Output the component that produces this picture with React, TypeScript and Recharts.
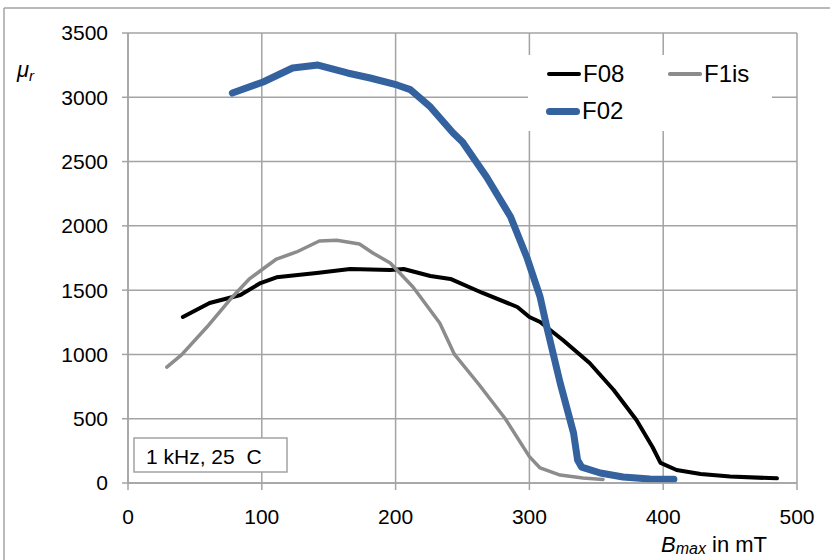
import { CartesianGrid, Legend, Line, LineChart, XAxis, YAxis } from "recharts";

const FONT = '"Liberation Sans", Arial, Helvetica, sans-serif';

// B_max in mT / relative permeability
const f08B = [41, 61, 84, 99, 111, 141, 166, 196, 206, 226, 241, 265, 291, 300, 308, 325, 345, 363, 380, 392, 398, 410, 428, 450, 485];
const f08Mu = [1291, 1400, 1462, 1555, 1600, 1633, 1664, 1657, 1664, 1610, 1587, 1478, 1369, 1291, 1252, 1112, 933, 723, 490, 280, 156, 101, 70, 50, 36];

const f1isB = [29, 40, 59, 78, 91, 111, 126, 143, 156, 173, 183, 196, 213, 233, 244, 262, 282, 300, 308, 323, 340, 355];
const f1isMu = [902, 996, 1213, 1447, 1590, 1742, 1797, 1882, 1888, 1859, 1789, 1711, 1524, 1244, 1000, 770, 500, 205, 117, 62, 39, 28];

const f02B = [78, 101, 123, 142, 164, 181, 201, 211, 226, 243, 250, 268, 286, 298, 308, 313, 323, 333, 336, 339, 353, 370, 390, 408];
const f02Mu = [3033, 3119, 3228, 3251, 3189, 3150, 3096, 3060, 2925, 2722, 2652, 2380, 2069, 1758, 1447, 1213, 778, 389, 179, 124, 78, 47, 31, 30];

const xTicks = [0, 100, 200, 300, 400, 500];
const yTicks = [0, 500, 1000, 1500, 2000, 2500, 3000, 3500];

const toPoints = (bs: number[], mus: number[]) => bs.map((b, i) => ({ b, mu: mus[i] }));

const series = [
  { name: "F08", data: toPoints(f08B, f08Mu), color: "#000000", width: 4 },
  { name: "F1is", data: toPoints(f1isB, f1isMu), color: "#8c8c8c", width: 3.5 },
  { name: "F02", data: toPoints(f02B, f02Mu), color: "#34629f", width: 7 },
];

const legendSpots: Record<string, { x: number; y: number }> = {
  F08: { x: 19, y: 19 },
  F1is: { x: 140, y: 19 },
  F02: { x: 18, y: 56 },
};

const GRID = "#a3a3a3";

function LegendBox() {
  return (
    <div style={{ position: "relative", width: 244, height: 76, background: "#fff", fontFamily: FONT }}>
      {series.map((s) => {
        const p = legendSpots[s.name];
        return (
          <div key={s.name}>
            <div
              style={{
                position: "absolute",
                left: p.x,
                top: p.y - s.width / 2,
                width: 34,
                height: s.width,
                background: s.color,
                borderRadius: s.width / 2,
              }}
            />
            <div style={{ position: "absolute", left: p.x + 36, top: p.y - 13, fontSize: 24, lineHeight: "26px", color: "#000" }}>
              {s.name}
            </div>
          </div>
        );
      })}
    </div>
  );
}

export default function App() {
  return (
    <div style={{ position: "absolute", left: 0, top: 0, width: 830, height: 560, background: "#fff", overflow: "hidden" }}>
      <LineChart width={830} height={560} margin={{ top: 33, right: 33, bottom: 37, left: 0 }}>
        <CartesianGrid stroke={GRID} strokeWidth={1.5} />
        <XAxis
          type="number"
          dataKey="b"
          domain={[0, 500]}
          ticks={xTicks}
          height={40}
          tickSize={7}
          tickMargin={19}
          axisLine={{ stroke: GRID, strokeWidth: 1.5 }}
          tickLine={{ stroke: GRID, strokeWidth: 1.5 }}
          tick={{ fill: "#000", fontSize: 21, fontFamily: FONT }}
        />
        <YAxis
          type="number"
          dataKey="mu"
          domain={[0, 3500]}
          ticks={yTicks}
          width={128}
          tickSize={6}
          tickMargin={14}
          axisLine={{ stroke: GRID, strokeWidth: 1.5 }}
          tickLine={{ stroke: GRID, strokeWidth: 1.5 }}
          tick={{ fill: "#000", fontSize: 21, fontFamily: FONT }}
        />
        <Legend
          layout="vertical"
          align="center"
          verticalAlign="middle"
          wrapperStyle={{ left: 528, top: 55, width: 244 }}
          content={() => <LegendBox />}
        />
        {series.map((s) => (
          <Line
            key={s.name}
            name={s.name}
            data={s.data}
            dataKey="mu"
            type="linear"
            stroke={s.color}
            strokeWidth={s.width}
            strokeLinejoin="round"
            strokeLinecap="round"
            dot={false}
            activeDot={false}
            isAnimationActive={false}
          />
        ))}
      </LineChart>
      <svg
        width={830}
        height={560}
        style={{ position: "absolute", left: 0, top: 0, pointerEvents: "none" }}
        fontFamily={FONT}
      >
        <line x1={4} y1={8} x2={830} y2={8} stroke={GRID} strokeWidth={1.5} />
        <line x1={4} y1={8} x2={4} y2={560} stroke={GRID} strokeWidth={1.5} />
        <text x={17} y={77} fontSize={22} fontStyle="italic" fill="#000">
          μ<tspan fontSize={15} dy={4}>r</tspan>
        </text>
        <text x={661} y={552} fontSize={22} fill="#000">
          <tspan fontStyle="italic">B</tspan>
          <tspan fontStyle="italic" fontSize={16} dy={2}>max</tspan>
          <tspan dy={-2}> in mT</tspan>
        </text>
        <rect x={134} y={438} width={153} height={34} fill="#fff" stroke={GRID} strokeWidth={1.5} />
        <text x={146} y={464} fontSize={21} fill="#000" xmlSpace="preserve">
          1 kHz, 25  C
        </text>
      </svg>
    </div>
  );
}
